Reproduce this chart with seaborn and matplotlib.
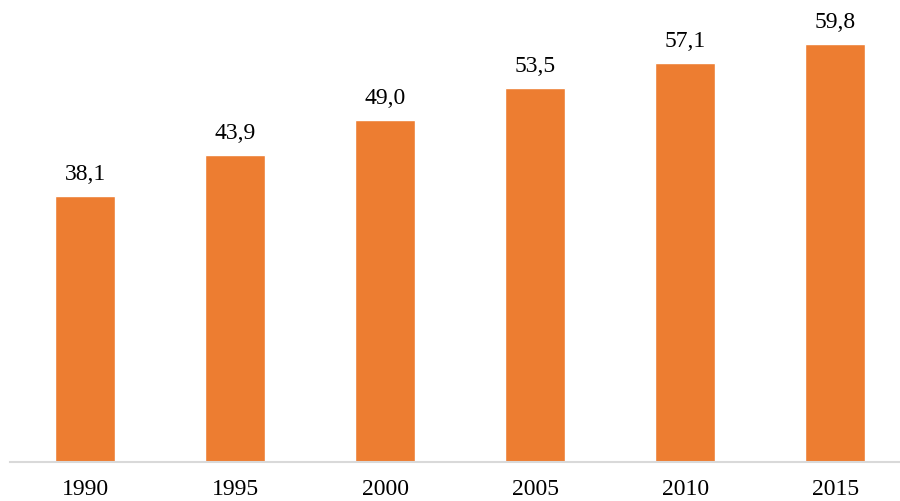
import matplotlib
matplotlib.use("Agg")
import matplotlib.pyplot as plt
import seaborn as sns
import pandas as pd

years = ["1990", "1995", "2000", "2005", "2010", "2015"]
values = [38.1, 43.9, 49.0, 53.5, 57.1, 59.8]
labels = ["38,1", "43,9", "49,0", "53,5", "57,1", "59,8"]

sns.set_theme(style="white")
plt.rcParams["font.family"] = ["Liberation Serif", "DejaVu Serif"]

df = pd.DataFrame({"year": years, "value": values})

fig = plt.figure(figsize=(9.0, 5.01), dpi=100)
ax = fig.add_axes([10 / 900, 39 / 501, 890 / 900, 462 / 501])
sns.barplot(data=df, x="year", y="value", color="#ED7D31", width=0.4,
            saturation=1, ax=ax)
ax.set_xlim(-0.5, 5.43)
ax.set_ylim(0, 66.14)

for i, (v, t) in enumerate(zip(values, labels)):
    ax.annotate(t, (i, v), xytext=(0, 8), textcoords="offset points",
                ha="center", va="bottom", fontsize=17, color="black")

for s in ["top", "right", "left"]:
    ax.spines[s].set_visible(False)
ax.spines["bottom"].set_color("#D9D9D9")
ax.spines["bottom"].set_linewidth(1.5)
ax.set_yticks([])
ax.set_xlabel("")
ax.set_ylabel("")
ax.tick_params(axis="x", length=0, pad=12, labelsize=17, labelcolor="black")

fig.savefig("out.png", dpi=100)
